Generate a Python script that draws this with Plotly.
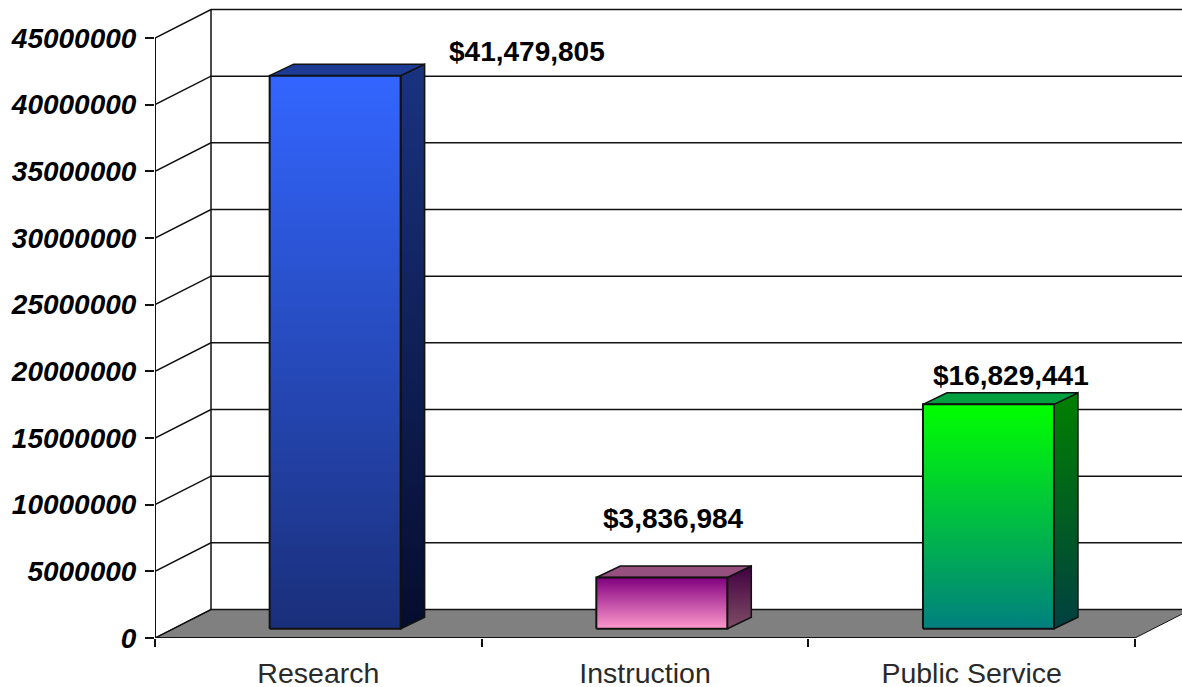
import plotly.graph_objects as go

categories = ["Research", "Instruction", "Public Service"]
values = [41479805, 3836984, 16829441]
value_labels = ["$41,479,805", "$3,836,984", "$16,829,441"]
y_ticks = [0, 5000000, 10000000, 15000000, 20000000, 25000000, 30000000, 35000000, 40000000, 45000000]

front_colors = [("#3366ff", "#1a2f7a"), ("#800080", "#ff99cc"), ("#00ff00", "#008080")]
side_colors = [("#1a3380", "#050d2e"), ("#400040", "#804d66"), ("#008000", "#004040")]
top_colors = ["#1d3a94", "#96507f", "#00a040"]

W, H = 1182, 687
L, B = 155, 49
CAT_PX = 326.67
VAL_PX = 600 / 45000000
px_x = lambda p: p / CAT_PX
px_y = lambda p: p / VAL_PX

xmax = (W - L) / CAT_PX
ymax = (H - B) / VAL_PX
floor_dx, floor_dy = px_x(56), px_y(28.5)
bar_off_x, bar_off_y = px_x(16.8), px_y(9.3)
bar_w = px_x(131)
bar_dx, bar_dy = px_x(24), px_y(11.5)

INK = "#111111"
fig = go.Figure()


def poly(xs, ys, fill=None, grad=None, line_w=1.5):
    kw = dict(x=xs, y=ys, mode="lines", showlegend=False, hoverinfo="skip",
              line=dict(color=INK, width=line_w), cliponaxis=False)
    if grad:
        lo, hi = min(ys), max(ys)
        kw.update(fill="toself", fillgradient=dict(
            type="vertical", start=hi, stop=lo,
            colorscale=[[0, grad[0]], [1, grad[1]]]))
    elif fill:
        kw.update(fill="toself", fillcolor=fill)
    fig.add_trace(go.Scatter(**kw))


# floor
poly([0, 3, 3 + floor_dx, floor_dx, 0], [0, 0, floor_dy, floor_dy, 0], fill="#808080", line_w=1)

# gridlines, back wall
for v in y_ticks:
    poly([0, floor_dx, xmax], [v, v + floor_dy, v + floor_dy])
poly([floor_dx, floor_dx], [floor_dy, y_ticks[-1] + floor_dy])

# axes
poly([0, 0], [0, y_ticks[-1]], line_w=2)
poly([0, 3], [0, 0], line_w=2)

# bars: the front face sits a little way into the floor, so its height starts from that offset
for i, v in enumerate(values):
    x0 = i + 0.5 + bar_off_x - bar_w / 2
    x1 = x0 + bar_w
    y0 = bar_off_y
    y1 = v + bar_off_y
    poly([x1, x1 + bar_dx, x1 + bar_dx, x1, x1],
         [y0, y0 + bar_dy, y1 + bar_dy, y1, y0], grad=side_colors[i])
    poly([x0, x1, x1 + bar_dx, x0 + bar_dx, x0],
         [y1, y1, y1 + bar_dy, y1 + bar_dy, y1], fill=top_colors[i])
    poly([x0, x1, x1, x0, x0], [y0, y0, y1, y1, y0], grad=front_colors[i], line_w=2)

# value labels, positioned by hand in the original
label_centres = [(527 - L, H - B - 51), (673 - L, H - B - 518), (1011 - L, H - B - 375)]
for text, (cx, cy) in zip(value_labels, label_centres):
    fig.add_annotation(x=px_x(cx), y=px_y(cy), text=text, showarrow=False,
                       font=dict(family="Liberation Sans", size=28, color="#000000", weight="bold"))

fig.update_layout(
    width=W, height=H, autosize=False,
    margin=dict(l=L, r=0, t=0, b=B, pad=0, autoexpand=False),
    paper_bgcolor="white", plot_bgcolor="white",
    showlegend=False,
    xaxis=dict(
        range=[0, xmax], showgrid=False, zeroline=False, showline=False, automargin=False,
        tickmode="array", tickvals=[0.5, 1.5, 2.5], ticktext=categories, ticks="",
        ticklabelstandoff=15,
        tickfont=dict(family="Liberation Sans", size=28.5, color="#2a2a2a"),
        minor=dict(tickmode="array", tickvals=[0, 1, 2, 3], ticks="outside", ticklen=8, tickwidth=1.5,
                   tickcolor=INK, showgrid=False),
    ),
    yaxis=dict(
        range=[0, ymax], showgrid=False, zeroline=False, showline=False, automargin=False,
        tickmode="array", tickvals=y_ticks, ticktext=[str(v) for v in y_ticks],
        ticks="outside", ticklen=9, tickwidth=1.5, tickcolor=INK,
        ticklabelstandoff=3,
        tickfont=dict(family="Liberation Sans", size=28, color="#000000", weight="bold", style="italic"),
    ),
)

fig.write_html("out.html", config={"displayModeBar": False},
               post_script="document.body.style.margin='0';")
